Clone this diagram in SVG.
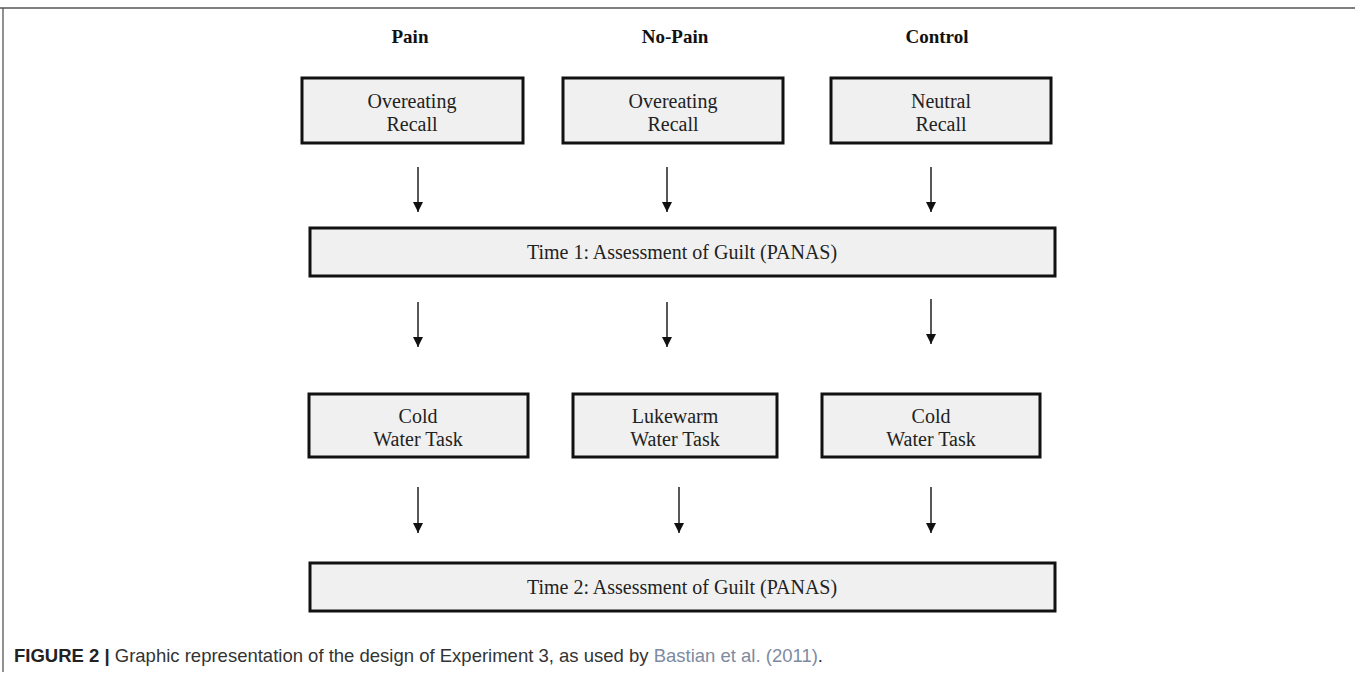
<svg xmlns="http://www.w3.org/2000/svg" width="1355" height="679" viewBox="0 0 1355 679">
<style>
.box{fill:#f0f0f0;stroke:#111;stroke-width:3}
.hd{font-family:"Liberation Serif","Times New Roman",serif;font-weight:bold;font-size:19px;fill:#111;text-anchor:middle}
.t{font-family:"Liberation Serif","Times New Roman",serif;font-size:20px;fill:#222;text-anchor:middle}
.conn line{stroke:#111;stroke-width:1.4;marker-end:url(#ah)}
.cap{font-family:"Liberation Sans",Arial,sans-serif;font-size:18.5px;fill:#333}
</style>
<defs>
<marker id="ah" viewBox="0 0 10 10" refX="10" refY="5" markerWidth="11" markerHeight="10" markerUnits="userSpaceOnUse" orient="auto">
<path d="M0,0 L10,5 L0,10 z" fill="#111"/>
</marker>
</defs>
<rect width="1355" height="679" fill="#fff"/>
<g id="frame">
<line x1="0" y1="8" x2="1355" y2="8" stroke="#555" stroke-width="1.3"/>
<line x1="3" y1="8" x2="3" y2="672" stroke="#555" stroke-width="1.3"/>
</g>
<g id="headers">
<text class="hd" x="410" y="43">Pain</text>
<text class="hd" x="675" y="43">No-Pain</text>
<text class="hd" x="937" y="43">Control</text>
</g>
<g id="pain-recall">
<rect class="box" x="302" y="78" width="221" height="65"/>
<text class="t" x="412" y="108">Overeating</text>
<text class="t" x="412" y="131">Recall</text>
</g>
<g id="nopain-recall">
<rect class="box" x="563" y="78" width="220" height="65"/>
<text class="t" x="673" y="108">Overeating</text>
<text class="t" x="673" y="131">Recall</text>
</g>
<g id="control-recall">
<rect class="box" x="831" y="78" width="220" height="65"/>
<text class="t" x="941" y="108">Neutral</text>
<text class="t" x="941" y="131">Recall</text>
</g>
<g id="time1">
<rect class="box" x="310" y="228" width="745" height="48"/>
<text class="t" x="682" y="259">Time 1: Assessment of Guilt (PANAS)</text>
</g>
<g id="pain-cold">
<rect class="box" x="309" y="394" width="219" height="63"/>
<text class="t" x="418" y="423">Cold</text>
<text class="t" x="418" y="446">Water Task</text>
</g>
<g id="nopain-lukewarm">
<rect class="box" x="573" y="394" width="204" height="63"/>
<text class="t" x="675" y="423">Lukewarm</text>
<text class="t" x="675" y="446">Water Task</text>
</g>
<g id="control-cold">
<rect class="box" x="822" y="394" width="218" height="63"/>
<text class="t" x="931" y="423">Cold</text>
<text class="t" x="931" y="446">Water Task</text>
</g>
<g id="time2">
<rect class="box" x="310" y="563" width="745" height="48"/>
<text class="t" x="682" y="594">Time 2: Assessment of Guilt (PANAS)</text>
</g>
<g id="connectors" class="conn">
<line x1="418" y1="167" x2="418" y2="212"/>
<line x1="667" y1="167" x2="667" y2="212"/>
<line x1="931" y1="167" x2="931" y2="212"/>
<line x1="418" y1="302" x2="418" y2="347"/>
<line x1="667" y1="302" x2="667" y2="347"/>
<line x1="931" y1="299" x2="931" y2="344"/>
<line x1="418" y1="487" x2="418" y2="533"/>
<line x1="679" y1="487" x2="679" y2="533"/>
<line x1="931" y1="487" x2="931" y2="533"/>
</g>
<g id="caption">
<text class="cap" x="14" y="662"><tspan font-weight="bold" fill="#222">FIGURE 2 |</tspan> Graphic representation of the design of Experiment 3, as used by <tspan fill="#7d8ba0">Bastian et al. (2011)</tspan>.</text>
</g>
</svg>
